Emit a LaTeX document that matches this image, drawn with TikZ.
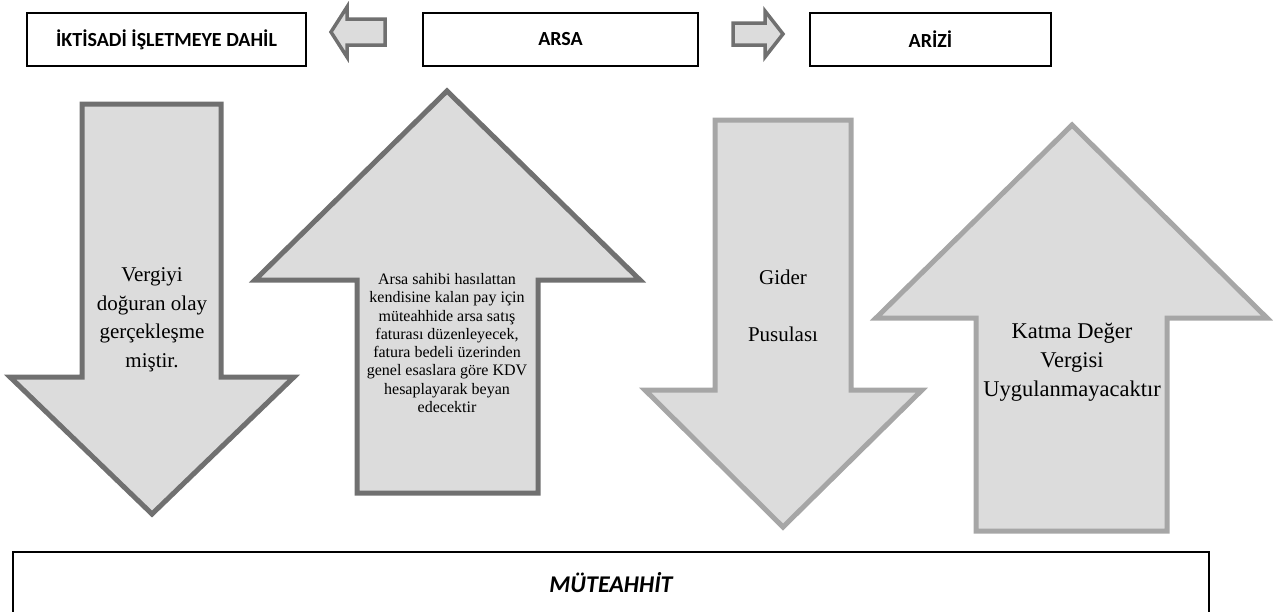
\documentclass[tikz,border=0pt]{standalone}
\usepackage{fontspec}
\setmainfont{Liberation Serif}
\newfontfamily\calibri{Carlito}
\usetikzlibrary{positioning}

\definecolor{arrowfill}{HTML}{DCDCDC}
\definecolor{darkedge}{HTML}{707070}
\definecolor{lightedge}{HTML}{A6A6A6}

\tikzstyle{titlebox} = [rectangle, draw = black, line width = 1.5pt, inner sep = 0pt, font = \calibri\bfseries\fontsize{20}{24}\selectfont]
\tikzstyle{darkarrow} = [fill = arrowfill, draw = darkedge, line width = 5pt, line join = miter]
\tikzstyle{lightarrow} = [fill = arrowfill, draw = lightedge, line width = 5pt, line join = miter]
\tikzstyle{smallarrow} = [fill = arrowfill, draw = darkedge, line width = 3.5pt, line join = miter]
\tikzstyle{arrowtext} = [align = center, font = \fontsize{21}{28.5}\selectfont]

\begin{document}
\begin{tikzpicture}[x = 1pt, y = -1pt]
    \useasboundingbox (0,0) rectangle (1273,611);

    % boxes on top
    \node(dahil)[titlebox, minimum width = 279, minimum height = 53] at (166.5,39.5) {İKTİSADİ İŞLETMEYE DAHİL};
    \node(arsa)[titlebox, minimum width = 275, minimum height = 53] at (560.5,39.5) {ARSA};
    \node(arizi)[titlebox, minimum width = 241, minimum height = 53] at (930.5,39.5) {ARİZİ};

    % small arrows between the boxes
    \draw[smallarrow] (385,19) -- (347,19) -- (347,7) -- (331,32) -- (347,57) -- (347,45) -- (385,45) -- cycle;
    \draw[smallarrow] (733,23) -- (765,23) -- (765,11) -- (783,34) -- (765,57) -- (765,45) -- (733,45) -- cycle;

    % big arrows
    \draw[darkarrow] (82,104) -- (221,104) -- (221,377) -- (294,377) -- (152,514) -- (10,377) -- (82,377) -- cycle;
    \draw[darkarrow] (357,493) -- (357,280) -- (255,280) -- (447,91) -- (640,280) -- (538,280) -- (538,493) -- cycle;
    \draw[lightarrow] (715,120) -- (851,120) -- (851,390) -- (922,390) -- (783,527) -- (645,390) -- (715,390) -- cycle;
    \draw[lightarrow] (976,531) -- (976,318) -- (876,318) -- (1072,125) -- (1267,318) -- (1167,318) -- (1167,531) -- cycle;

    % texts in the arrows
    \node(olay)[arrowtext] at (152,320) {Vergiyi\\doğuran olay\\gerçekleşme\\miştir.};
    \node(fatura)[align = center, font = \fontsize{16}{18.3}\selectfont] at (447,343) {Arsa sahibi hasılattan\\kendisine kalan pay için\\müteahhide arsa satış\\faturası düzenleyecek,\\fatura bedeli üzerinden\\genel esaslara göre KDV\\hesaplayarak beyan\\edecektir};
    \node(gider)[arrowtext] at (783,306) {Gider\\[28pt]Pusulası};
    \node(kdv)[arrowtext, font = \fontsize{22.5}{29}\selectfont] at (1072,362) {Katma Değer\\Vergisi\\Uygulanmayacaktır};

    % bottom box
    \node(muteahhit)[titlebox, minimum width = 1196, minimum height = 62, font = \calibri\bfseries\itshape\fontsize{24}{28}\selectfont] at (611,583) {MÜTEAHHİT};

\end{tikzpicture}
\end{document}
